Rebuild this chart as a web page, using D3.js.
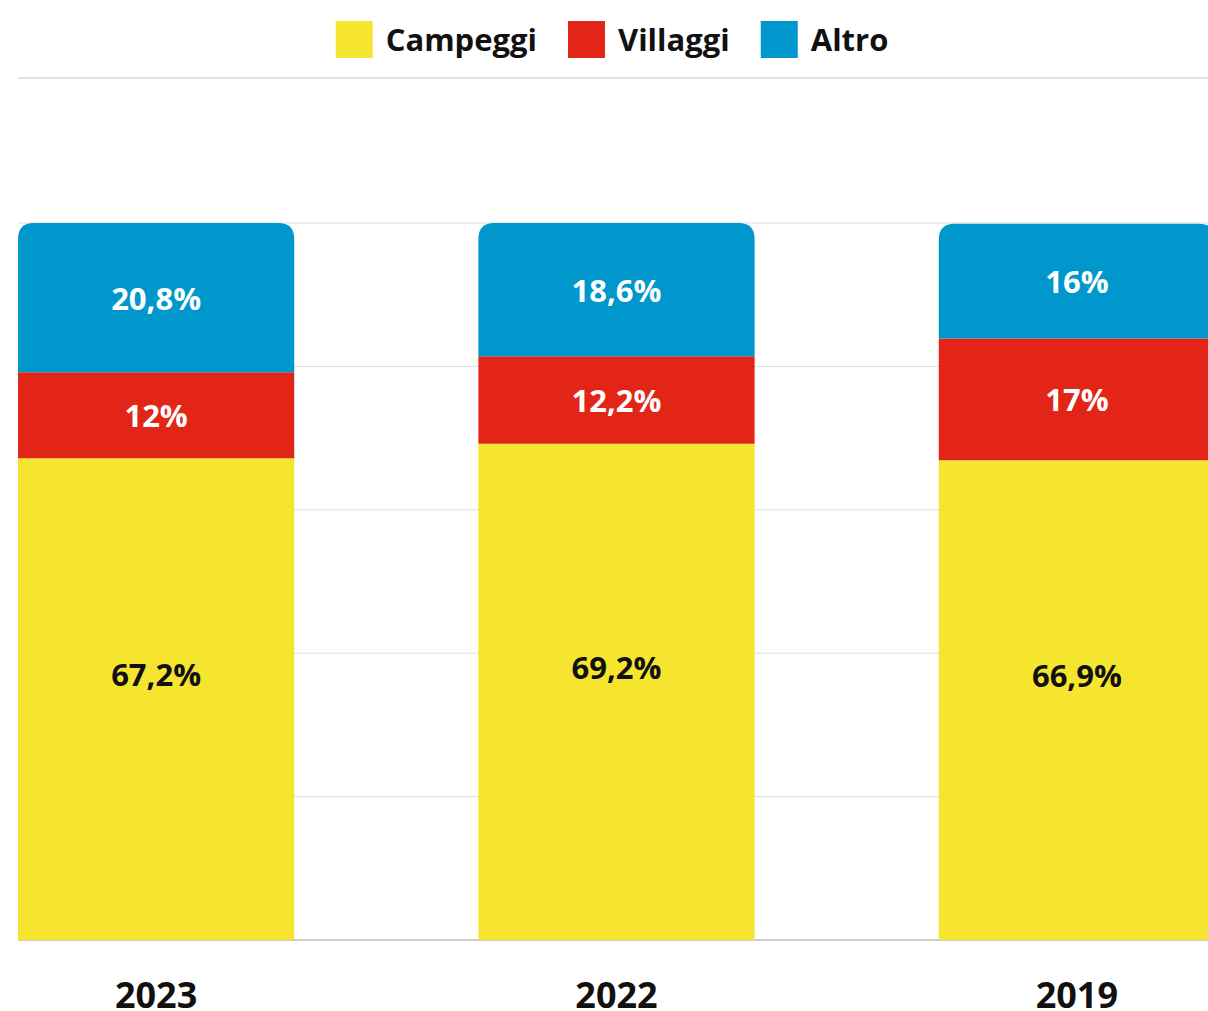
<!DOCTYPE html>
<html>
<head>
<meta charset="utf-8">
<script src="https://cdn.jsdelivr.net/npm/d3@7"></script>
<style>
  body { margin: 0; background: #fff; }
  svg { display: block; font-family: "Open Sans", sans-serif; }
</style>
</head>
<body>
<div id="chart"></div>
<script>
// --- dati ---
const anni = ["2023", "2022", "2019"];
const serie = ["Campeggi", "Villaggi", "Altro"];
const campeggi = [67.2, 69.2, 66.9];
const villaggi = [12, 12.2, 17];
const altro = [20.8, 18.6, 16];
const yTicks = [0, 20, 40, 60, 80, 100];
const colori = ["#f6e52f", "#e22516", "#0097cc"];

const width = 1208;
const height = 1011;

const righe = anni.map((a, i) => ({
  anno: a,
  Campeggi: campeggi[i],
  Villaggi: villaggi[i],
  Altro: altro[i]
}));

const svg = d3.select("#chart").append("svg")
  .attr("width", width)
  .attr("height", height);

const x = d3.scaleBand()
  .domain(anni)
  .range([18, 1215])
  .paddingInner(0.4)
  .paddingOuter(0);

const y = d3.scaleLinear()
  .domain([0, 100])
  .range([940, 223]);

const color = d3.scaleOrdinal().domain(serie).range(colori);

// linea sotto la legenda
svg.append("line")
  .attr("x1", 18).attr("x2", width)
  .attr("y1", 78).attr("y2", 78)
  .attr("stroke", "#e3e3e3")
  .attr("stroke-width", 2);

// griglia
svg.append("g")
  .selectAll("line")
  .data(yTicks.filter(d => d > 0))
  .join("line")
  .attr("x1", 18).attr("x2", width)
  .attr("y1", d => y(d)).attr("y2", d => y(d))
  .attr("stroke", "#dddddd")
  .attr("stroke-width", 1);

// asse x (linea base)
svg.append("line")
  .attr("x1", 18).attr("x2", width)
  .attr("y1", y(0)).attr("y2", y(0))
  .attr("stroke", "#9a9a9a")
  .attr("stroke-width", 1);

const stacked = d3.stack().keys(serie)(righe);
const r = 16;

// segmento con angoli superiori arrotondati
function topRounded(x0, y0, w, h, rad) {
  return `M${x0},${y0 + h}V${y0 + rad}Q${x0},${y0} ${x0 + rad},${y0}` +
    `H${x0 + w - rad}Q${x0 + w},${y0} ${x0 + w},${y0 + rad}V${y0 + h}Z`;
}

const gruppi = svg.append("g")
  .selectAll("g")
  .data(stacked)
  .join("g")
  .attr("fill", d => color(d.key));

gruppi.selectAll("path")
  .data(d => d.map(p => ({ key: d.key, p: p })))
  .join("path")
  .attr("d", d => {
    const x0 = x(d.p.data.anno);
    const y0 = y(d.p[1]);
    const h = y(d.p[0]) - y(d.p[1]);
    const rad = d.key === serie[serie.length - 1] ? r : 0;
    return topRounded(x0, y0, x.bandwidth(), h, rad);
  });

// etichette valori
const fmt = v => String(v).replace(".", ",") + "%";
svg.append("g")
  .selectAll("g")
  .data(stacked)
  .join("g")
  .selectAll("text")
  .data(d => d.map(p => ({ key: d.key, p: p })))
  .join("text")
  .attr("x", d => x(d.p.data.anno) + x.bandwidth() / 2)
  .attr("y", d => {
    const mid = (y(d.p[0]) + y(d.p[1])) / 2;
    return d.key === serie[0] ? mid - 25 : mid;
  })
  .attr("text-anchor", "middle")
  .attr("dominant-baseline", "central")
  .attr("font-size", 31)
  .attr("font-weight", 700)
  .attr("fill", d => d.key === serie[0] ? "#111" : "#fff")
  .text(d => fmt(d.p.data[d.key]));

// etichette anni
svg.append("g")
  .selectAll("text")
  .data(anni)
  .join("text")
  .attr("x", d => x(d) + x.bandwidth() / 2)
  .attr("y", 1008)
  .attr("text-anchor", "middle")
  .attr("font-size", 36)
  .attr("font-weight", 700)
  .attr("fill", "#111")
  .text(d => d);

// legenda
const legenda = svg.append("g");
const sw = 37, gapTesto = 13, gapVoce = 31;
const voci = legenda.selectAll("g")
  .data(serie)
  .join("g");
voci.append("rect")
  .attr("width", sw).attr("height", sw)
  .attr("y", 21)
  .attr("fill", d => color(d));
voci.append("text")
  .attr("x", sw + gapTesto)
  .attr("y", 39)
  .attr("dominant-baseline", "central")
  .attr("font-size", 31)
  .attr("font-weight", 700)
  .attr("fill", "#111")
  .text(d => d);

let pos = 0;
const larghezze = [];
voci.each(function() {
  const w = sw + gapTesto + d3.select(this).select("text").node().getComputedTextLength();
  larghezze.push(w);
});
const totale = d3.sum(larghezze) + gapVoce * (serie.length - 1);
pos = 612 - totale / 2;
voci.attr("transform", (d, i) => {
  const t = `translate(${pos},0)`;
  pos += larghezze[i] + gapVoce;
  return t;
});
</script>
</body>
</html>
